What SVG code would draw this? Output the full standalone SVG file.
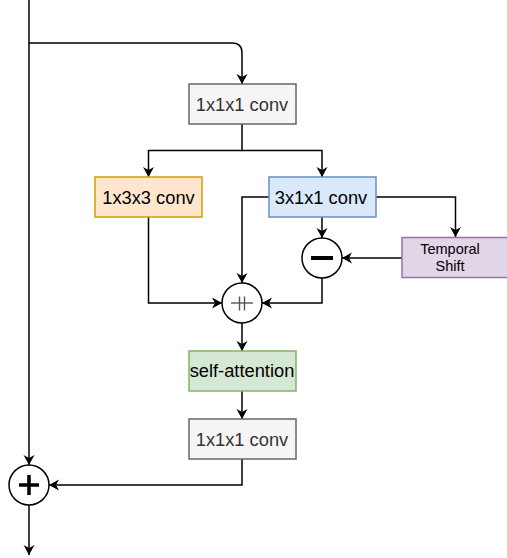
<svg xmlns="http://www.w3.org/2000/svg" width="507" height="558" viewBox="0 0 507 558">
  <style>
    .box { stroke-width: 1.5; }
    .gray { fill: #f5f5f5; stroke: #666666; }
    .orange { fill: #ffe6cc; stroke: #d79b00; }
    .blue { fill: #dae8fc; stroke: #6c8ebf; }
    .purple { fill: #e1d5e7; stroke: #9673a6; }
    .green { fill: #d5e8d4; stroke: #82b366; }
    .lbl { font-family: "Liberation Sans", Arial, Helvetica, sans-serif; font-size: 18.3px; text-anchor: middle; fill: #000000; }
    .lbl.dark { fill: #333333; }
    .small { font-size: 14.5px; }
    .edge { fill: none; stroke: #000000; stroke-width: 1.5; }
    .op { fill: #ffffff; stroke: #000000; stroke-width: 1.5; }
  </style>
  <defs>
    <marker id="arr" markerUnits="userSpaceOnUse" markerWidth="12" markerHeight="12" refX="10" refY="5.5" orient="auto" overflow="visible">
      <path d="M0,0 L10,5.5 L0,11 L3,5.5 Z" fill="#000000"/>
    </marker>
  </defs>

  <g id="connectors">
    <path class="edge" d="M29,0 V465" marker-end="url(#arr)"/>
    <path class="edge" d="M29,43 H232 Q242,43 242,53 V84" marker-end="url(#arr)"/>
    <path class="edge" d="M242,124 V150.5 H148.5 V177" marker-end="url(#arr)"/>
    <path class="edge" d="M242,150.5 H322 V177" marker-end="url(#arr)"/>
    <path class="edge" d="M148.5,217 V303 H222" marker-end="url(#arr)"/>
    <path class="edge" d="M269,197 H242 V283" marker-end="url(#arr)"/>
    <path class="edge" d="M322,217 V238" marker-end="url(#arr)"/>
    <path class="edge" d="M376,197 H455.5 V237" marker-end="url(#arr)"/>
    <path class="edge" d="M402,258 H342" marker-end="url(#arr)"/>
    <path class="edge" d="M322,278 V303 H262" marker-end="url(#arr)"/>
    <path class="edge" d="M242,323 V351" marker-end="url(#arr)"/>
    <path class="edge" d="M242,391 V419" marker-end="url(#arr)"/>
    <path class="edge" d="M242,459 V485 H49" marker-end="url(#arr)"/>
    <path class="edge" d="M29,505 V555" marker-end="url(#arr)"/>
  </g>

  <g id="conv1">
    <rect class="box gray" x="189" y="84" width="107" height="40"/>
    <text class="lbl dark" x="242" y="111">1x1x1 conv</text>
  </g>
  <g id="conv133">
    <rect class="box orange" x="95" y="177" width="107" height="40"/>
    <text class="lbl" x="148.5" y="204">1x3x3 conv</text>
  </g>
  <g id="conv311">
    <rect class="box blue" x="269" y="177" width="107" height="40"/>
    <text class="lbl" x="321" y="204">3x1x1 conv</text>
  </g>
  <g id="temporal">
    <rect class="box purple" x="402" y="237.5" width="107" height="40"/>
    <text class="lbl small" x="450" y="254">Temporal</text>
    <text class="lbl small" x="450" y="270.5">Shift</text>
  </g>
  <g id="minus">
    <circle class="op" cx="322" cy="258" r="20"/>
    <line x1="311" y1="258" x2="333" y2="258" stroke="#000000" stroke-width="4"/>
  </g>
  <g id="concat">
    <circle class="op" cx="242" cy="303" r="20"/>
    <line x1="231" y1="303" x2="253" y2="303" stroke="#555555" stroke-width="1.4"/>
    <line x1="239.5" y1="296.5" x2="239.5" y2="310.5" stroke="#555555" stroke-width="1.4"/>
    <line x1="244.5" y1="296.5" x2="244.5" y2="310.5" stroke="#555555" stroke-width="1.4"/>
  </g>
  <g id="selfatt">
    <rect class="box green" x="189" y="351" width="107" height="40"/>
    <text class="lbl" x="242" y="377">self-attention</text>
  </g>
  <g id="conv2">
    <rect class="box gray" x="189" y="419" width="107" height="40"/>
    <text class="lbl dark" x="242" y="446">1x1x1 conv</text>
  </g>
  <g id="plus">
    <circle class="op" cx="29" cy="485" r="20"/>
    <line x1="19" y1="485" x2="39" y2="485" stroke="#000000" stroke-width="3.5"/>
    <line x1="29" y1="475" x2="29" y2="495" stroke="#000000" stroke-width="3.5"/>
  </g>
</svg>
